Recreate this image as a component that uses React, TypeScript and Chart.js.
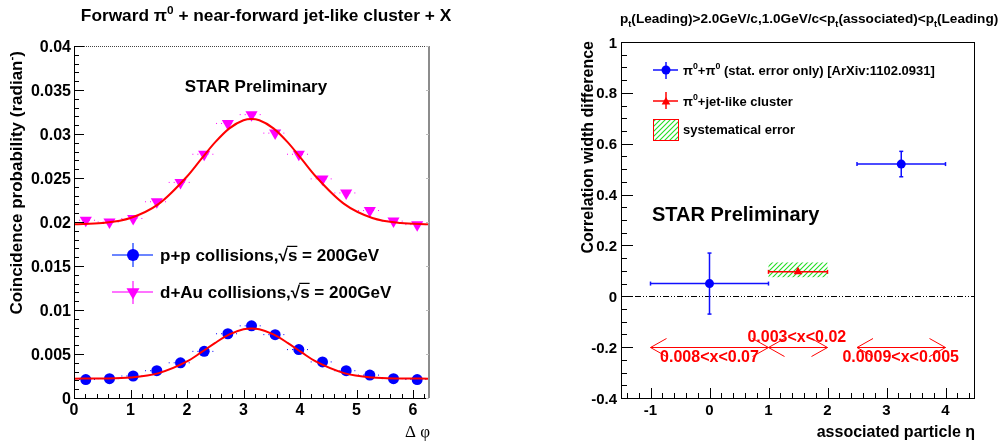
import React, { useEffect, useRef } from "react";
import { Chart, registerables } from "chart.js";

Chart.register(...registerables);

const FONT = '"Liberation Sans", Arial, Helvetica, sans-serif';

// ---------------- Left panel data ----------------
const dphiCenters = [0.209, 0.628, 1.047, 1.466, 1.885, 2.304, 2.723, 3.142, 3.56, 3.979, 4.398, 4.817, 5.236, 5.655, 6.074];
const dphiBinHalfWidth = 0.209;
const ppCoincidence = [0.0021, 0.0022, 0.0025, 0.0031, 0.004, 0.0053, 0.0073, 0.0082, 0.0072, 0.0055, 0.0041, 0.0031, 0.0026, 0.0022, 0.0021];
const dAuCoincidence = [0.0202, 0.02, 0.0204, 0.0223, 0.0245, 0.0277, 0.0312, 0.0322, 0.0301, 0.0277, 0.0249, 0.0233, 0.0213, 0.0201, 0.0197];
const fitDphi = [0, 0.5, 1.0, 1.5, 2.0, 2.25, 2.5, 2.75, 3.0, 3.14, 3.28, 3.53, 3.78, 4.03, 4.28, 4.78, 5.28, 5.78, 6.28];
const ppFit = [0.0022, 0.00222, 0.00233, 0.00283, 0.00415, 0.00518, 0.00627, 0.00722, 0.00781, 0.0079, 0.00781, 0.00722, 0.00627, 0.00518, 0.00415, 0.00283, 0.00233, 0.00222, 0.0022];
const dAuFit = [0.01973, 0.01988, 0.02046, 0.02206, 0.02517, 0.02714, 0.02907, 0.03064, 0.03156, 0.0317, 0.03156, 0.03064, 0.02907, 0.02714, 0.02517, 0.02206, 0.02046, 0.01988, 0.01973];
const leftYTicks = [0, 0.005, 0.01, 0.015, 0.02, 0.025, 0.03, 0.035, 0.04];
const leftYTickLabels = ["0", "0.005", "0.01", "0.015", "0.02", "0.025", "0.03", "0.035", "0.04"];
const leftXTicks = [0, 1, 2, 3, 4, 5, 6];
const leftXTickLabels = ["0", "1", "2", "3", "4", "5", "6"];

// ---------------- Right panel data ----------------
const etaPiPi = [0, 3.25];
const widthPiPi = [0.05, 0.52];
const etaLoPiPi = [-1, 2.5];
const etaHiPiPi = [1, 4];
const widthErrPiPi = [0.12, 0.05];
const etaJet = [1.5];
const widthJet = [0.096];
const etaLoJet = [1];
const etaHiJet = [2];
const sysLoJet = [0.075];
const sysHiJet = [0.133];
const xRangeLabels = ["0.008<x<0.07", "0.003<x<0.02", "0.0009<x<0.005"];
const xRangeFrom = [-1, 1, 2.5];
const xRangeTo = [1, 2, 4];
const xRangeArrowY = [-0.2, -0.2, -0.2];
const xRangeLabelEta = [0, 1.48, 3.24];
const xRangeLabelY = [-0.24, -0.163, -0.24];
const rightYTicks = [-0.4, -0.2, 0, 0.2, 0.4, 0.6, 0.8, 1];
const rightYTickLabels = ["-0.4", "-0.2", "0", "0.2", "0.4", "0.6", "0.8", "1"];
const rightXTicks = [-1, 0, 1, 2, 3, 4];
const rightXTickLabels = ["-1", "0", "1", "2", "3", "4"];

type Seg = { t: string; sup?: boolean; sub?: boolean; over?: boolean };

function drawRich(
  ctx: CanvasRenderingContext2D,
  segs: Seg[],
  x: number,
  y: number,
  size: number,
  align: "left" | "center" | "right",
  weight = "bold",
  family = FONT
) {
  const main = `${weight} ${size}px ${family}`;
  const small = `${weight} ${Math.round(size * 0.68 * 10) / 10}px ${family}`;
  const widths = segs.map((s) => {
    ctx.font = s.sup || s.sub ? small : main;
    return ctx.measureText(s.t).width;
  });
  const total = widths.reduce((a, b) => a + b, 0);
  let cx = align === "left" ? x : align === "center" ? x - total / 2 : x - total;
  ctx.textAlign = "left";
  ctx.textBaseline = "alphabetic";
  segs.forEach((s, i) => {
    ctx.font = s.sup || s.sub ? small : main;
    const dy = s.sup ? -size * 0.42 : s.sub ? size * 0.28 : 0;
    ctx.fillText(s.t, cx, y + dy);
    if (s.over) {
      ctx.save();
      ctx.lineWidth = 1.2;
      ctx.strokeStyle = ctx.fillStyle as string;
      ctx.beginPath();
      ctx.moveTo(cx - 1, y - size * 0.86);
      ctx.lineTo(cx + widths[i], y - size * 0.86);
      ctx.stroke();
      ctx.restore();
    }
    cx += widths[i];
  });
  return total;
}

function line(ctx: CanvasRenderingContext2D, x1: number, y1: number, x2: number, y2: number) {
  ctx.beginPath();
  ctx.moveTo(x1, y1);
  ctx.lineTo(x2, y2);
  ctx.stroke();
}

function triangle(ctx: CanvasRenderingContext2D, x: number, y: number, r: number, down: boolean) {
  const base = down ? Math.PI : 0;
  ctx.beginPath();
  for (let k = 0; k < 3; k++) {
    const a = base + (k * 2 * Math.PI) / 3;
    const px = x + Math.sin(a) * r;
    const py = y - Math.cos(a) * r;
    if (k === 0) ctx.moveTo(px, py);
    else ctx.lineTo(px, py);
  }
  ctx.closePath();
  ctx.fill();
}

function makeHatch(): HTMLCanvasElement {
  const s = 5;
  const c = document.createElement("canvas");
  c.width = s;
  c.height = s;
  const g = c.getContext("2d")!;
  g.fillStyle = "#ffffff";
  g.fillRect(0, 0, s, s);
  g.strokeStyle = "#22dd22";
  g.lineWidth = 1.1;
  g.beginPath();
  g.moveTo(-1, s + 1);
  g.lineTo(s + 1, -1);
  g.moveTo(-2, 2);
  g.lineTo(2, -2);
  g.moveTo(s - 2, s + 2);
  g.lineTo(s + 2, s - 2);
  g.stroke();
  return c;
}

function leftConfig(): any {
  const decor = {
    id: "leftDecor",
    beforeDatasetsDraw(chart: any) {
      const ctx: CanvasRenderingContext2D = chart.ctx;
      const xs = chart.scales.x;
      const ys = chart.scales.y;
      ctx.save();
      ctx.setLineDash([1, 4]);
      ctx.lineWidth = 1;
      dphiCenters.forEach((x, i) => {
        ctx.strokeStyle = "#0000ff";
        const yp = ys.getPixelForValue(ppCoincidence[i]);
        line(ctx, xs.getPixelForValue(x - dphiBinHalfWidth), yp, xs.getPixelForValue(x + dphiBinHalfWidth), yp);
        ctx.strokeStyle = "#ff00ff";
        const yd = ys.getPixelForValue(dAuCoincidence[i]);
        line(ctx, xs.getPixelForValue(x - dphiBinHalfWidth), yd, xs.getPixelForValue(x + dphiBinHalfWidth), yd);
      });
      ctx.restore();
    },
    afterDraw(chart: any) {
      const ctx: CanvasRenderingContext2D = chart.ctx;
      const a = chart.chartArea;
      const xs = chart.scales.x;
      const ys = chart.scales.y;
      ctx.save();
      // frame
      ctx.strokeStyle = "#444";
      ctx.lineWidth = 1;
      ctx.setLineDash([1, 1]);
      line(ctx, a.left, a.top + 0.5, a.right, a.top + 0.5);
      ctx.setLineDash([]);
      ctx.strokeStyle = "#8c8c8c";
      ctx.lineWidth = 2;
      line(ctx, a.right, a.top, a.right, a.bottom);
      ctx.strokeStyle = "#000";
      ctx.lineWidth = 1;
      line(ctx, a.left + 0.5, a.top, a.left + 0.5, a.bottom + 0.5);
      line(ctx, a.left, a.bottom + 0.5, a.right, a.bottom + 0.5);
      // y ticks (minor every 0.001)
      for (let i = 0; i <= 40; i++) {
        const yp = Math.round(ys.getPixelForValue(i * 0.001)) + 0.5;
        const len = i % 5 === 0 ? 10 : 5;
        ctx.strokeStyle = "#000";
        line(ctx, a.left, yp, a.left + len, yp);
        if (i % 5 === 0) {
          ctx.strokeStyle = "#bbb";
          line(ctx, a.right - 3, yp, a.right, yp);
        }
      }
      // x ticks (minor every 0.2)
      for (let i = 0; i <= 31; i++) {
        const xp = Math.round(xs.getPixelForValue(i * 0.2)) + 0.5;
        const len = i % 5 === 0 ? 8 : 4;
        ctx.strokeStyle = "#000";
        line(ctx, xp, a.bottom, xp, a.bottom - len);
      }
      // tick labels
      ctx.fillStyle = "#000";
      ctx.font = `bold 16px ${FONT}`;
      ctx.textBaseline = "alphabetic";
      ctx.textAlign = "right";
      leftYTicks.forEach((v, i) => {
        ctx.fillText(leftYTickLabels[i], a.left - 3, ys.getPixelForValue(v) + 6);
      });
      ctx.textAlign = "center";
      leftXTicks.forEach((v, i) => {
        ctx.fillText(leftXTickLabels[i], xs.getPixelForValue(v), a.bottom + 17);
      });
      // axis titles
      ctx.font = `17px "Liberation Serif", "DejaVu Serif", serif`;
      ctx.textAlign = "right";
      ctx.fillText("\u0394 \u03c6", a.right + 1, 437);
      ctx.save();
      ctx.translate(22, 51);
      ctx.rotate(-Math.PI / 2);
      drawRich(ctx, [{ t: "Coincidence probability (radian" }, { t: "-", sup: true }, { t: ")" }], 0, 0, 17, "right");
      ctx.restore();
      // title
      drawRich(ctx, [{ t: "Forward \u03c0" }, { t: "0", sup: true }, { t: " + near-forward jet-like cluster + X" }], 266, 21, 17.3, "center");
      // STAR Preliminary
      ctx.font = `bold 17px ${FONT}`;
      ctx.textAlign = "center";
      ctx.fillText("STAR Preliminary", 256, 92);
      // legend
      ctx.lineWidth = 1.5;
      ctx.strokeStyle = "#3a5cff";
      line(ctx, 112, 255, 153, 255);
      line(ctx, 133, 243, 133, 267);
      ctx.fillStyle = "#0000ff";
      ctx.beginPath();
      ctx.arc(133, 255, 6, 0, Math.PI * 2);
      ctx.fill();
      ctx.strokeStyle = "#ff44ff";
      line(ctx, 112, 292, 153, 292);
      line(ctx, 133, 281, 133, 304);
      ctx.fillStyle = "#ff00ff";
      triangle(ctx, 133, 292, 7.5, true);
      ctx.fillStyle = "#000";
      drawRich(ctx, [{ t: "p+p collisions,\u221a" }, { t: "s", over: true }, { t: " = 200GeV" }], 160, 261, 17, "left");
      drawRich(ctx, [{ t: "d+Au collisions,\u221a" }, { t: "s", over: true }, { t: " = 200GeV" }], 160, 298, 17, "left");
      ctx.restore();
    },
  };

  return {
    type: "scatter",
    data: {
      datasets: [
        {
          label: "p+p fit",
          data: fitDphi.map((x, i) => ({ x, y: ppFit[i] })),
          showLine: true,
          borderColor: "#ff0000",
          borderWidth: 2,
          pointRadius: 0,
          tension: 0.4,
          cubicInterpolationMode: "monotone",
        },
        {
          label: "d+Au fit",
          data: fitDphi.map((x, i) => ({ x, y: dAuFit[i] })),
          showLine: true,
          borderColor: "#ff0000",
          borderWidth: 2,
          pointRadius: 0,
          tension: 0.4,
          cubicInterpolationMode: "monotone",
        },
        {
          label: "p+p collisions",
          data: dphiCenters.map((x, i) => ({ x, y: ppCoincidence[i] })),
          pointStyle: "circle",
          pointRadius: 5.5,
          pointBackgroundColor: "#0000ff",
          pointBorderWidth: 0,
          borderColor: "#0000ff",
        },
        {
          label: "d+Au collisions",
          data: dphiCenters.map((x, i) => ({ x, y: dAuCoincidence[i] })),
          pointStyle: "triangle",
          pointRotation: 180,
          pointRadius: 7,
          pointBackgroundColor: "#ff00ff",
          pointBorderWidth: 0,
          borderColor: "#ff00ff",
        },
      ],
    },
    options: {
      responsive: false,
      devicePixelRatio: 1,
      animation: false,
      events: [],
      layout: { padding: { left: 74, right: 71, top: 46, bottom: 46 } },
      scales: {
        x: { type: "linear", min: 0, max: 2 * Math.PI, display: false },
        y: { type: "linear", min: 0, max: 0.04, display: false },
      },
      plugins: { legend: { display: false }, tooltip: { enabled: false } },
    },
    plugins: [decor],
  };
}

function rightConfig(): any {
  const hatch = makeHatch();
  const decor = {
    id: "rightDecor",
    beforeDatasetsDraw(chart: any) {
      const ctx: CanvasRenderingContext2D = chart.ctx;
      const a = chart.chartArea;
      const xs = chart.scales.x;
      const ys = chart.scales.y;
      ctx.save();
      const pat = ctx.createPattern(hatch, "repeat")!;
      // systematic boxes
      etaJet.forEach((_, i) => {
        const x1 = xs.getPixelForValue(etaLoJet[i]);
        const x2 = xs.getPixelForValue(etaHiJet[i]);
        const y1 = ys.getPixelForValue(sysHiJet[i]);
        const y2 = ys.getPixelForValue(sysLoJet[i]);
        ctx.fillStyle = pat;
        ctx.fillRect(x1, y1, x2 - x1, y2 - y1);
      });
      // zero line
      ctx.strokeStyle = "#000";
      ctx.lineWidth = 1;
      ctx.setLineDash([6, 2, 1, 2, 1, 2]);
      const y0 = Math.round(ys.getPixelForValue(0)) + 0.5;
      line(ctx, a.left, y0, a.right, y0);
      ctx.setLineDash([]);
      // pi0+pi0 error bars
      ctx.strokeStyle = "#1010ff";
      ctx.lineWidth = 1.5;
      etaPiPi.forEach((x, i) => {
        const yp = ys.getPixelForValue(widthPiPi[i]);
        const xl = xs.getPixelForValue(etaLoPiPi[i]);
        const xh = xs.getPixelForValue(etaHiPiPi[i]);
        const xp = xs.getPixelForValue(x);
        const yt = ys.getPixelForValue(widthPiPi[i] + widthErrPiPi[i]);
        const yb = ys.getPixelForValue(widthPiPi[i] - widthErrPiPi[i]);
        line(ctx, xl, yp, xh, yp);
        line(ctx, xl, yp - 2, xl, yp + 2);
        line(ctx, xh, yp - 2, xh, yp + 2);
        line(ctx, xp, yt, xp, yb);
        line(ctx, xp - 2, yt, xp + 2, yt);
        line(ctx, xp - 2, yb, xp + 2, yb);
      });
      // jet error bars
      ctx.strokeStyle = "#ff0000";
      etaJet.forEach((x, i) => {
        const yp = ys.getPixelForValue(widthJet[i]);
        const xl = xs.getPixelForValue(etaLoJet[i]);
        const xh = xs.getPixelForValue(etaHiJet[i]);
        line(ctx, xl, yp, xh, yp);
        line(ctx, xl, yp - 2, xl, yp + 2);
        line(ctx, xh, yp - 2, xh, yp + 2);
      });
      ctx.restore();
    },
    afterDraw(chart: any) {
      const ctx: CanvasRenderingContext2D = chart.ctx;
      const a = chart.chartArea;
      const xs = chart.scales.x;
      const ys = chart.scales.y;
      ctx.save();
      // frame
      ctx.strokeStyle = "#000";
      ctx.lineWidth = 1;
      ctx.strokeRect(a.left + 0.5, a.top + 0.5, a.right - a.left - 1, a.bottom - a.top);
      // y ticks (minor every 0.05)
      for (let i = 0; i <= 28; i++) {
        const yp = Math.round(ys.getPixelForValue(-0.4 + i * 0.05)) + 0.5;
        const len = i % 4 === 0 ? 12 : 6;
        line(ctx, a.left, yp, a.left + len, yp);
      }
      // x ticks (minor every 0.2)
      for (let i = -7; i <= 22; i++) {
        const xp = Math.round(xs.getPixelForValue(i * 0.2)) + 0.5;
        const len = i % 5 === 0 ? 10 : 5;
        line(ctx, xp, a.bottom, xp, a.bottom - len);
      }
      // tick labels
      ctx.fillStyle = "#000";
      ctx.font = `bold 15px ${FONT}`;
      ctx.textBaseline = "alphabetic";
      ctx.textAlign = "right";
      rightYTicks.forEach((v, i) => {
        ctx.fillText(rightYTickLabels[i], a.left - 4, ys.getPixelForValue(v) + 5.5);
      });
      ctx.textAlign = "center";
      rightXTicks.forEach((v, i) => {
        ctx.fillText(rightXTickLabels[i], xs.getPixelForValue(v), a.bottom + 17);
      });
      // axis titles
      drawRich(ctx, [{ t: "associated particle \u03b7" }], a.right, 437, 16, "right");
      ctx.save();
      ctx.translate(93, 41);
      ctx.rotate(-Math.PI / 2);
      drawRich(ctx, [{ t: "Correlation width difference" }], 0, 0, 16, "right");
      ctx.restore();
      // title
      drawRich(
        ctx,
        [
          { t: "p" },
          { t: "t", sub: true },
          { t: "(Leading)>2.0GeV/c,1.0GeV/c<p" },
          { t: "t", sub: true },
          { t: "(associated)<p" },
          { t: "t", sub: true },
          { t: "(Leading)" },
        ],
        120,
        23,
        13.6,
        "left"
      );
      // STAR Preliminary
      ctx.font = `bold 20px ${FONT}`;
      ctx.textAlign = "left";
      ctx.fillText("STAR Preliminary", 152, 221);
      // legend
      ctx.lineWidth = 1.5;
      ctx.strokeStyle = "#1010ff";
      line(ctx, 153, 70, 178, 70);
      line(ctx, 166, 62, 166, 79);
      ctx.fillStyle = "#0000ff";
      ctx.beginPath();
      ctx.arc(166, 70, 4.5, 0, Math.PI * 2);
      ctx.fill();
      ctx.strokeStyle = "#ff0000";
      line(ctx, 153, 101, 178, 101);
      line(ctx, 166, 92, 166, 109);
      ctx.fillStyle = "#ff0000";
      triangle(ctx, 166, 102, 5, false);
      ctx.fillStyle = ctx.createPattern(hatch, "repeat")!;
      ctx.fillRect(153, 119, 25, 21);
      ctx.strokeStyle = "#ff0000";
      ctx.lineWidth = 1;
      ctx.strokeRect(153.5, 119.5, 25, 21);
      ctx.fillStyle = "#000";
      drawRich(ctx, [{ t: "\u03c0" }, { t: "0", sup: true }, { t: "+\u03c0" }, { t: "0", sup: true }, { t: " (stat. error only) [ArXiv:1102.0931]" }], 183, 74.5, 13, "left");
      drawRich(ctx, [{ t: "\u03c0" }, { t: "0", sup: true }, { t: "+jet-like cluster" }], 183, 105.5, 13, "left");
      drawRich(ctx, [{ t: "systematical error" }], 183, 133.5, 13, "left");
      // x-range arrows
      ctx.strokeStyle = "#ff0000";
      ctx.lineWidth = 1;
      xRangeLabels.forEach((lab, i) => {
        const x1 = xs.getPixelForValue(xRangeFrom[i]);
        const x2 = xs.getPixelForValue(xRangeTo[i]);
        const yp = Math.round(ys.getPixelForValue(xRangeArrowY[i])) + 0.5;
        line(ctx, x1, yp, x2, yp);
        line(ctx, x1, yp, x1 + 16, yp - 9);
        line(ctx, x1, yp, x1 + 16, yp + 9);
        line(ctx, x2, yp, x2 - 16, yp - 9);
        line(ctx, x2, yp, x2 - 16, yp + 9);
      });
      ctx.fillStyle = "#ff0000";
      ctx.font = `bold 16px ${FONT}`;
      ctx.textAlign = "center";
      ctx.textBaseline = "middle";
      xRangeLabels.forEach((lab, i) => {
        ctx.fillText(lab, xs.getPixelForValue(xRangeLabelEta[i]), ys.getPixelForValue(xRangeLabelY[i]));
      });
      ctx.restore();
    },
  };

  return {
    type: "scatter",
    data: {
      datasets: [
        {
          label: "pi0+jet-like cluster",
          data: etaJet.map((x, i) => ({ x, y: widthJet[i] })),
          pointStyle: "triangle",
          pointRadius: 5,
          pointBackgroundColor: "#ff0000",
          pointBorderWidth: 0,
          borderColor: "#ff0000",
        },
        {
          label: "pi0+pi0",
          data: etaPiPi.map((x, i) => ({ x, y: widthPiPi[i] })),
          pointStyle: "circle",
          pointRadius: 4.5,
          pointBackgroundColor: "#0000ff",
          pointBorderWidth: 0,
          borderColor: "#0000ff",
        },
      ],
    },
    options: {
      responsive: false,
      devicePixelRatio: 1,
      animation: false,
      events: [],
      layout: { padding: { left: 121, right: 28, top: 42, bottom: 46 } },
      scales: {
        x: { type: "linear", min: -1.5, max: 4.5, display: false },
        y: { type: "linear", min: -0.4, max: 1, display: false },
      },
      plugins: { legend: { display: false }, tooltip: { enabled: false } },
    },
    plugins: [decor],
  };
}

export default function App() {
  const leftRef = useRef<HTMLCanvasElement>(null);
  const rightRef = useRef<HTMLCanvasElement>(null);
  useEffect(() => {
    const lc = new Chart(leftRef.current!, leftConfig());
    const rc = new Chart(rightRef.current!, rightConfig());
    return () => {
      lc.destroy();
      rc.destroy();
    };
  }, []);
  return (
    <div style={{ position: "absolute", left: 0, top: 0, width: 1003, height: 444, background: "#fff", overflow: "hidden" }}>
      <canvas ref={leftRef} width={500} height={444} style={{ position: "absolute", left: 0, top: 0, width: 500, height: 444 }} />
      <canvas ref={rightRef} width={503} height={444} style={{ position: "absolute", left: 500, top: 0, width: 503, height: 444 }} />
    </div>
  );
}
